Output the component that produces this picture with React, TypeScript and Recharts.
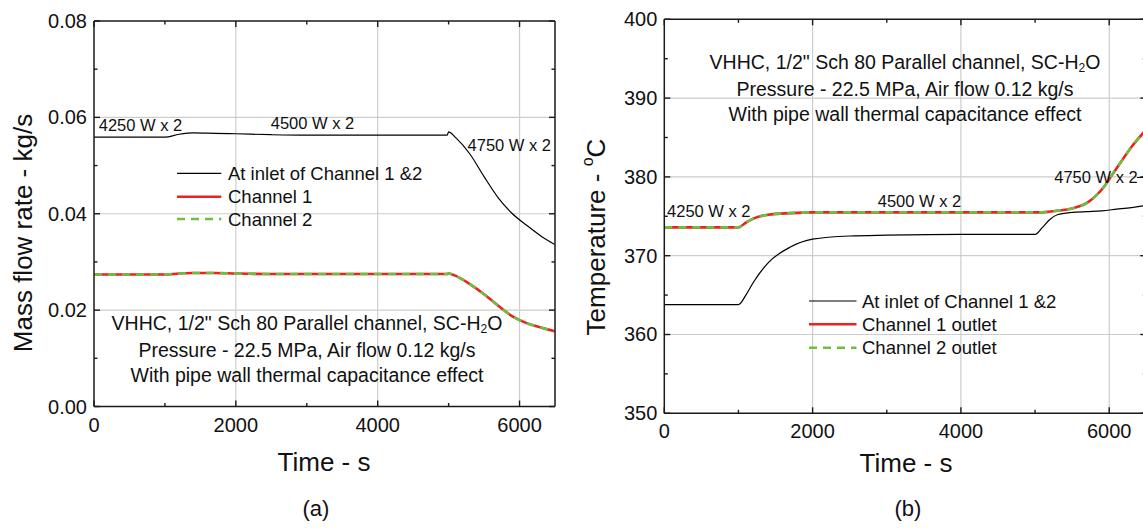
import React from 'react';
import { LineChart, Line, XAxis, YAxis, CartesianGrid, Legend } from 'recharts';

const FONT = '"Liberation Sans", Arial, Helvetica, sans-serif';
const AX = '#1a1a1a';
const TXT = '#111111';
const GRID = '#cdcdcd';
const RED = '#f02020';
const GREEN = '#6dbf3e';

// ---------- Chart (a): mass flow rate ----------
const timeA = [0, 500, 1000, 1200, 1400, 1700, 2000, 2500, 3000, 4000, 4980, 5000, 5100, 5300, 5500, 5700, 5900, 6100, 6300, 6500];
const inletFlowA = [0.0559, 0.0559, 0.0559, 0.0565, 0.0568, 0.0567, 0.0566, 0.0564, 0.0563, 0.0563, 0.0563, 0.0570, 0.0558, 0.0524, 0.0477, 0.0433, 0.0400, 0.0376, 0.0354, 0.0336];
const channel1FlowA = [0.0274, 0.0274, 0.0274, 0.0276, 0.0277, 0.0277, 0.0276, 0.0275, 0.0275, 0.0275, 0.0275, 0.0276, 0.0271, 0.0254, 0.0233, 0.0209, 0.0187, 0.0173, 0.0164, 0.0156];
const channel2FlowA = [0.0274, 0.0274, 0.0274, 0.0276, 0.0277, 0.0277, 0.0276, 0.0275, 0.0275, 0.0275, 0.0275, 0.0276, 0.0271, 0.0254, 0.0233, 0.0209, 0.0187, 0.0173, 0.0164, 0.0156];
const xTicksA = [0, 1000, 2000, 3000, 4000, 5000, 6000];
const xMajorA = [0, 2000, 4000, 6000];
const yTicksA = [0, 0.01, 0.02, 0.03, 0.04, 0.05, 0.06, 0.07, 0.08];
const yMajorA = [0, 0.02, 0.04, 0.06, 0.08];
const seriesNamesA = ['At inlet of Channel 1 &2', 'Channel 1', 'Channel 2'];

// ---------- Chart (b): temperature ----------
const timeB = [0, 500, 1000, 1100, 1200, 1400, 1700, 2000, 2500, 3000, 4000, 5000, 5100, 5200, 5300, 5500, 5700, 5900, 6100, 6300, 6500];
const inletTempB = [363.8, 363.8, 363.8, 365.0, 366.6, 369.1, 371.1, 372.1, 372.5, 372.6, 372.7, 372.7, 373.6, 374.6, 375.2, 375.5, 375.6, 375.7, 375.9, 376.1, 376.4];
const outlet1TempB = [373.6, 373.6, 373.6, 374.2, 374.7, 375.2, 375.4, 375.5, 375.5, 375.5, 375.5, 375.5, 375.5, 375.6, 375.7, 376.0, 376.7, 378.4, 381.1, 383.8, 386.0];
const outlet2TempB = [373.6, 373.6, 373.6, 374.2, 374.7, 375.2, 375.4, 375.5, 375.5, 375.5, 375.5, 375.5, 375.5, 375.6, 375.7, 376.0, 376.7, 378.4, 381.1, 383.8, 386.0];
const xTicksB = [0, 1000, 2000, 3000, 4000, 5000, 6000];
const xMajorB = [0, 2000, 4000, 6000];
const yTicksB = [350, 355, 360, 365, 370, 375, 380, 385, 390, 395, 400];
const yMajorB = [350, 360, 370, 380, 390, 400];
const seriesNamesB = ['At inlet of Channel 1 &2', 'Channel 1 outlet', 'Channel 2 outlet'];

const powerLabels = ['4250 W x 2', '4500 W x 2', '4750 W x 2'];
const infoLines = ['VHHC, 1/2" Sch 80 Parallel channel, SC-H', 'Pressure - 22.5 MPa, Air flow 0.12 kg/s', 'With pipe wall thermal capacitance effect'];

const rowsA = timeA.map((t, i) => ({ t, inlet: inletFlowA[i], ch1: channel1FlowA[i], ch2: channel2FlowA[i] }));
const rowsB = timeB.map((t, i) => ({ t, inlet: inletTempB[i], ch1: outlet1TempB[i], ch2: outlet2TempB[i] }));

// layout (pixels)
const H = 529;
const LA = { w: 570, top: 21, right: 15, yAxisW: 94, xAxisH: 122.5 };
const LB = { w: 591.3, top: 19.3, right: 15, yAxisW: 94.3, xAxisH: 115.7 };
const plotW = (L: any) => L.w - L.right - L.yAxisW;
const plotH = (L: any) => H - L.top - L.xAxisH;

const isIn = (arr: number[], v: number) => arr.some((a) => Math.abs(a - v) < 1e-9);

// inward tick on the axis, mirrored inward tick on the opposite side, and (for the first tick) the opposite frame edge
const makeTick = (side: 'bottom' | 'left', majors: number[], fmt: (v: number) => string, L: any) => (props: any) => {
  const { x, y, payload, index } = props;
  const v = payload.value;
  const major = isIn(majors, v);
  const len = major ? 6 : 3.5;
  const pw = plotW(L);
  const ph = plotH(L);
  if (side === 'bottom') {
    return (
      <g>
        {index === 0 && <line x1={x} y1={y - ph} x2={x + pw} y2={y - ph} stroke={AX} strokeWidth={1.5} />}
        <line x1={x} y1={y} x2={x} y2={y - len} stroke={AX} strokeWidth={1.4} />
        <line x1={x} y1={y - ph} x2={x} y2={y - ph + len} stroke={AX} strokeWidth={1.4} />
        {major && (
          <text x={x} y={y + 18} textAnchor="middle" dominantBaseline="central" fontSize={20} fill={TXT} fontFamily={FONT}>{fmt(v)}</text>
        )}
      </g>
    );
  }
  return (
    <g>
      {index === 0 && <line x1={x + pw} y1={y} x2={x + pw} y2={y - ph} stroke={AX} strokeWidth={1.5} />}
      <line x1={x} y1={y} x2={x + len} y2={y} stroke={AX} strokeWidth={1.4} />
      <line x1={x + pw} y1={y} x2={x + pw - len} y2={y} stroke={AX} strokeWidth={1.4} />
      {major && (
        <text x={x - 7} y={y} textAnchor="end" dominantBaseline="central" fontSize={20} fill={TXT} fontFamily={FONT}>{fmt(v)}</text>
      )}
    </g>
  );
};

const legendContent = (rowYs: number[], lineLen: number, textX: number) => (props: any) => {
  const payload = (props.payload || []).filter((e: any) => e.type !== 'none');
  return (
    <svg width={300} height={80} style={{ overflow: 'visible' }}>
      {payload.map((e: any, i: number) => {
        const p = e.payload || {};
        return (
          <g key={i}>
            <line x1={0} x2={lineLen} y1={rowYs[i]} y2={rowYs[i]} stroke={e.color} strokeWidth={p.strokeWidth || 1.2} strokeDasharray={p.strokeDasharray} />
            <text x={textX} y={rowYs[i]} dominantBaseline="central" fontSize={18.5} fill={TXT} fontFamily={FONT}>{e.value}</text>
          </g>
        );
      })}
    </svg>
  );
};

const axisLine = { stroke: AX, strokeWidth: 1.5 };

function ChartA() {
  return (
    <LineChart width={LA.w} height={H} data={rowsA} margin={{ top: LA.top, right: LA.right, bottom: 0, left: 0 }} style={{ overflow: 'visible' }}>
      <CartesianGrid verticalValues={[2000, 4000, 6000]} horizontalValues={[0.02, 0.04, 0.06]} stroke={GRID} strokeWidth={1.2} />
      <Line dataKey="inlet" name={seriesNamesA[0]} type="monotone" stroke="#000000" strokeWidth={1.2} dot={false} isAnimationActive={false} />
      <Line dataKey="ch1" name={seriesNamesA[1]} type="monotone" stroke={RED} strokeWidth={2.6} dot={false} isAnimationActive={false} />
      <Line dataKey="ch2" name={seriesNamesA[2]} type="monotone" stroke={GREEN} strokeWidth={2.6} strokeDasharray="8 6" dot={false} isAnimationActive={false} />
      <XAxis dataKey="t" type="number" domain={[0, 6500]} ticks={xTicksA} interval={0} allowDataOverflow height={LA.xAxisH} tickSize={0} tickMargin={0} axisLine={axisLine} tickLine={false} tick={makeTick('bottom', xMajorA, (v) => String(v), LA)} />
      <YAxis type="number" domain={[0, 0.08]} ticks={yTicksA} interval={0} allowDataOverflow width={LA.yAxisW} tickSize={0} tickMargin={0} axisLine={axisLine} tickLine={false} tick={makeTick('left', yMajorA, (v) => v.toFixed(2), LA)} />
      <Legend layout="vertical" align="center" verticalAlign="middle" wrapperStyle={{ position: 'absolute', left: 177, top: 160, width: 300, height: 80 }} content={legendContent([13.3, 36.7, 59], 44.3, 51)} />
    </LineChart>
  );
}

function ChartB() {
  return (
    <LineChart width={LB.w} height={H} data={rowsB} margin={{ top: LB.top, right: LB.right, bottom: 0, left: 0 }} style={{ overflow: 'visible' }}>
      <CartesianGrid verticalValues={[2000, 4000, 6000]} horizontalValues={[360, 370, 380, 390]} stroke={GRID} strokeWidth={1.2} />
      <Line dataKey="inlet" name={seriesNamesB[0]} type="monotone" stroke="#000000" strokeWidth={1.2} dot={false} isAnimationActive={false} />
      <Line dataKey="ch1" name={seriesNamesB[1]} type="monotone" stroke={RED} strokeWidth={2.6} dot={false} isAnimationActive={false} />
      <Line dataKey="ch2" name={seriesNamesB[2]} type="monotone" stroke={GREEN} strokeWidth={2.6} strokeDasharray="8 6" dot={false} isAnimationActive={false} />
      <XAxis dataKey="t" type="number" domain={[0, 6500]} ticks={xTicksB} interval={0} allowDataOverflow height={LB.xAxisH} tickSize={0} tickMargin={0} axisLine={axisLine} tickLine={false} tick={makeTick('bottom', xMajorB, (v) => String(v), LB)} />
      <YAxis type="number" domain={[350, 400]} ticks={yTicksB} interval={0} allowDataOverflow width={LB.yAxisW} tickSize={0} tickMargin={0} axisLine={axisLine} tickLine={false} tick={makeTick('left', yMajorB, (v) => String(v), LB)} />
      <Legend layout="vertical" align="center" verticalAlign="middle" wrapperStyle={{ position: 'absolute', left: 239.4, top: 288, width: 300, height: 80 }} content={legendContent([13, 36.3, 59.7], 47.5, 53)} />
    </LineChart>
  );
}

const T = (p: any) => (
  <text x={p.x} y={p.y} fontSize={p.size} textAnchor={p.anchor || 'middle'} dominantBaseline="central" fill={TXT} fontFamily={FONT} transform={p.transform}>
    {p.children}
  </text>
);

function InfoBlock({ cx, ys }: { cx: number; ys: number[] }) {
  return (
    <g>
      <T x={cx} y={ys[0]} size={19.5}>
        {infoLines[0]}
        <tspan dy={6} fontSize={12}>2</tspan>
        <tspan dy={-6}>O</tspan>
      </T>
      <T x={cx} y={ys[1]} size={19.5}>{infoLines[1]}</T>
      <T x={cx} y={ys[2]} size={19.5}>{infoLines[2]}</T>
    </g>
  );
}

function Overlay() {
  return (
    <svg width={1143} height={529} style={{ position: 'absolute', left: 0, top: 0, pointerEvents: 'none' }}>
      {/* chart (a) */}
      <T x={22.5} y={233} size={26} transform="rotate(-90 22.5 233)">Mass flow rate - kg/s</T>
      <T x={324} y={462} size={26}>Time - s</T>
      <T x={316} y={508} size={22}>(a)</T>
      <InfoBlock cx={307} ys={[323, 350, 375]} />
      <T x={140.5} y={125} size={16.5}>{powerLabels[0]}</T>
      <T x={312.5} y={122.5} size={16.5}>{powerLabels[1]}</T>
      <T x={509.3} y={145} size={16.5}>{powerLabels[2]}</T>
      {/* chart (b) */}
      <T x={595.6} y={237} size={26} transform="rotate(-90 595.6 237)">
        Temperature - <tspan dy={-9} fontSize={16}>o</tspan><tspan dy={9}>C</tspan>
      </T>
      <T x={906} y={463} size={26}>Time - s</T>
      <T x={908} y={508} size={22}>(b)</T>
      <InfoBlock cx={905} ys={[61.5, 88.5, 114]} />
      <T x={708.8} y={211} size={16.5}>{powerLabels[0]}</T>
      <T x={919.5} y={200.5} size={16.5}>{powerLabels[1]}</T>
      <T x={1096} y={176.7} size={16.5}>{powerLabels[2]}</T>
      <line x1={1137} x2={1146} y1={177.5} y2={177.5} stroke={TXT} strokeWidth={1} />
    </svg>
  );
}

export default function App() {
  return (
    <div style={{ position: 'fixed', left: 0, top: 0, width: 1143, height: 529, overflow: 'hidden', background: '#ffffff', fontFamily: FONT }}>
      <div style={{ position: 'absolute', left: 0, top: 0 }}>
        <ChartA />
      </div>
      <div style={{ position: 'absolute', left: 570, top: 0 }}>
        <ChartB />
      </div>
      <Overlay />
    </div>
  );
}
